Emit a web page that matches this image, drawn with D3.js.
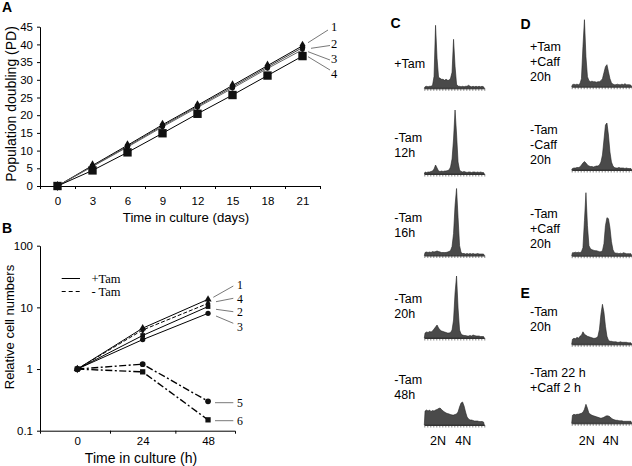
<!DOCTYPE html>
<html><head><meta charset="utf-8">
<script src="https://cdn.jsdelivr.net/npm/d3@7"></script>
<style>body{margin:0;background:#fff}svg{display:block}</style>
</head><body>
<svg id="fig" width="632" height="466"></svg>
<script>
// ---------- Panel A data ----------
const daysA = [0,3,6,9,12,15,18,21];
const pdS1 = [0,5.8,11.5,17.3,22.8,28.4,34.0,39.6];
const pdS2 = [0,5.6,11.2,17.0,22.5,28.0,33.6,39.1];
const pdS3 = [0,5.5,11.0,16.7,22.2,27.6,33.2,38.5];
const pdS4 = [0,4.4,9.5,14.9,20.4,25.7,31.2,36.7];
const yTicksA = [0,5,10,15,20,25,30,35,40,45];
const xBoundsA = [-1.5,1.5,4.5,7.5,10.5,13.5,16.5,19.5,22.5];
const seriesNamesA = ["1","2","3","4"];

// ---------- Panel B data ----------
const hoursB = [0,24,48];
const cellS1 = [1,4.6,13.5];
const cellS4 = [1,4.3,11.6];
const cellS2 = [1,3.5,10.3];
const cellS3 = [1,3.0,8.0];
const cellS5 = [1,1.2,0.30];
const cellS6 = [1,0.9,0.15];
const yTicksB = [0.1,1,10,100];
const yTickLabelsB = ["0.1","1","10","100"];
const xBoundsB = [12,36];
const seriesNamesB = ["1","4","2","3","5","6"];
const legendB = ["+Tam","- Tam"];

// ---------- Panels C/D/E histogram data (40 DNA-content channels) ----------
const histC1 = [1.5,2,1.5,2,2,3,12,63,30,11,10,9,9,8,9,8,8,10,16,49,22,4,2,2,1.5,2,1.5,2,2,3,2,1.5,2,1.5,2,1.5,2,1.5,2,1.5];
const histC2 = [2,1.5,2,2,2.5,3,5,9,6,3,2.5,3,2.5,3,3,3.5,4,7,15,35,64,40,12,4,2.5,2,2.5,2,1.5,2,2,1.5,2,2,1.5,2,1.5,2,1.5,1.5];
const histC3 = [3,3.5,3,3.5,3,4,3.5,4,4.5,4,3.5,3,3,3,3,3.5,4,5,9,22,50,67,38,10,3,2,2,1.5,2,1.5,2,1.5,2,1.5,1.5,2,1.5,1.5,1.5,1.5];
const histC4 = [5,6,5.5,6.5,6,7,9,11,13,10,8,7,6.5,6,5.5,5,5,5.5,8,18,45,62,30,8,4,3,2.5,2.5,2,2,2.5,2,3,2.5,2,2,2,1.5,1.5,1.5];
const histC5 = [14,15,14,15,13.5,14.5,14,15,15.5,16.5,17,15.5,14,13,12,11.5,11,10.5,10,10,10.5,11,13,18,22,23,19,13,8,6,5,5,4.5,4,4,4,3.5,3.5,3.5,3];
const histD1 = [2,2.5,2,2.5,2,3,8,40,67,30,10,6,5,5.5,5,5,4.5,5,5,6,8,14,20,22,15,8,4,2.5,2,2,2.5,2,2,2.5,2,3,2,2,2,1.5];
const histD2 = [1.5,2,2,2.5,2.5,3,5,7,8.5,7,5,4,3.5,3.5,3,3.5,4,4,5,8,15,30,45,47,35,18,8,4,2.5,2,2,2.5,2,2,2,1.5,2,1.5,1.5,1.5];
const histD3 = [3,3,3.5,3,3.5,3,4,8,35,63,30,10,7,6,5.5,5,5,4.5,4,4,5,12,30,38,37,28,14,6,3,2.5,2.5,2,2.5,2,3,2.5,2,2,2,2];
const histE1 = [5,6,5.5,7,6,8,9,12.5,10,9,8,7.5,7,6.5,6,6,6.5,8,15,30,40,32,18,8,4,3,3,2.5,2.5,2.5,2,2,2.5,2,2,2,2,1.5,1.5,1.5];
const histE2 = [8,9,8.5,9,9,9.5,10,11,14,19,15,10,9,8,7.5,7,6.5,6,5.5,5,5.5,6,7,7.5,7.3,6.5,5,4,3.5,3,3,2.5,2.5,2.5,2,2,2,2,2,2];

const labelsC = [["+Tam"],["-Tam","12h"],["-Tam","16h"],["-Tam","20h"],["-Tam","48h"]];
const labelsD = [["+Tam","+Caff","20h"],["-Tam","-Caff","20h"],["-Tam","+Caff","20h"]];
const labelsE = [["-Tam","20h"],["-Tam 22 h","+Caff 2 h"]];
const ploidyLabels = ["2N","4N"];

// ---------------------------------------------------------------
const svg = d3.select("#fig");
const SANS = "Arial, 'Liberation Sans', sans-serif";
const SERIF = "'Times New Roman', 'Liberation Serif', serif";

function styleAxis(g, size){
  g.selectAll("text").attr("font-family", SANS).attr("font-size", size).attr("fill","#000");
  g.selectAll("line,path").attr("stroke","#000").attr("stroke-width",1);
}
function panelLetter(t,x,y){
  svg.append("text").attr("x",x).attr("y",y).text(t)
    .attr("font-family",SANS).attr("font-weight","bold").attr("font-size",14);
}
const sym = (type,size)=>d3.symbol().type(type).size(size)();

// ================= Panel A =================
panelLetter("A",2,12);
const xA = d3.scaleLinear().domain([-1.5,22.5]).range([40,320]);
const yA = d3.scaleLinear().domain([0,45]).range([186,26.7]);
const gA = svg.append("g");
gA.append("g").attr("transform","translate(40,0)")
  .call(d3.axisLeft(yA).tickValues(yTicksA).tickSize(3).tickSizeOuter(0).tickPadding(4))
  .call(g=>styleAxis(g,11.5));
gA.append("g").attr("transform","translate(0,186)")
  .call(d3.axisBottom(xA).tickValues(xBoundsA).tickSize(3).tickSizeOuter(0).tickFormat(""))
  .call(g=>styleAxis(g,11.5));
gA.append("g").attr("transform","translate(0,186)")
  .call(d3.axisBottom(xA).tickValues(daysA).tickSize(0).tickPadding(10.5))
  .call(g=>{g.select(".domain").remove(); styleAxis(g,11.5);});
svg.append("text").attr("transform","translate(11,104) rotate(-90)")
  .attr("text-anchor","middle").attr("dy","0.35em").attr("font-family",SANS).attr("font-size",14)
  .text("Population doubling (PD)");
svg.append("text").attr("x",186).attr("y",217).attr("dy","0.35em")
  .attr("text-anchor","middle").attr("font-family",SANS).attr("font-size",13.2)
  .text("Time in culture (days)");

const lineA = d3.line().x((d,i)=>xA(daysA[i])).y(d=>yA(d));
const seriesA = [
  {v:pdS1, sym:d3.symbolDiamond, size:30, stroke:"#000"},
  {v:pdS2, sym:d3.symbolCircle, size:24, stroke:"#444"},
  {v:pdS3, sym:d3.symbolCircle, size:18, stroke:"#666"},
  {v:pdS4, sym:d3.symbolSquare, size:70, stroke:"#000"}
];
seriesA.forEach(s=>{
  gA.append("path").attr("d",lineA(s.v)).attr("fill","none").attr("stroke",s.stroke).attr("stroke-width",1);
});
seriesA.forEach(s=>{
  gA.selectAll(null).data(s.v).enter().append("path")
    .attr("transform",(d,i)=>`translate(${xA(daysA[i])},${yA(d)})`)
    .attr("d",sym(s.sym,s.size)).attr("fill","#111");
});
// leader lines + numbers for A
const leadA = [[308,42.7,328,30,26.5],[311,48.3,330,45.5,44],[308,51.7,330,60,59],[308,56.7,330,70,73.5]];
leadA.forEach((l,i)=>{
  svg.append("line").attr("x1",l[0]).attr("y1",l[1]).attr("x2",l[2]).attr("y2",l[3])
    .attr("stroke","#555").attr("stroke-width",0.8);
  svg.append("text").attr("x",331).attr("y",l[4]).attr("dy","0.35em").text(seriesNamesA[i])
    .attr("font-family",SERIF).attr("font-size",12.5).attr("fill","#000");
});

// ================= Panel B =================
panelLetter("B",2,233);
const xB = d3.scaleLinear().domain([-13.7,57.9]).range([40,235]);
const yB = d3.scaleLog().domain([0.1,100]).range([430.7,245.7]);
const gB = svg.append("g");
gB.append("g").attr("transform","translate(40,0)")
  .call(d3.axisLeft(yB).tickValues(yTicksB).tickFormat((d,i)=>yTickLabelsB[i]).tickSize(3).tickSizeOuter(0).tickPadding(4))
  .call(g=>styleAxis(g,11.5));
gB.append("g").attr("transform","translate(0,430.7)")
  .call(d3.axisBottom(xB).tickValues(xBoundsB).tickSize(3).tickSizeOuter(3).tickFormat(""))
  .call(g=>styleAxis(g,11.5));
gB.append("g").attr("transform","translate(0,430.7)")
  .call(d3.axisBottom(xB).tickValues(hoursB).tickSize(0).tickPadding(6))
  .call(g=>{g.select(".domain").remove(); styleAxis(g,11.5);});
svg.append("text").attr("transform","translate(9.5,327) rotate(-90)")
  .attr("text-anchor","middle").attr("dy","0.35em").attr("font-family",SANS).attr("font-size",13)
  .text("Relative cell numbers");
svg.append("text").attr("x",141).attr("y",458).attr("dy","0.35em")
  .attr("text-anchor","middle").attr("font-family",SANS).attr("font-size",14)
  .text("Time in culture (h)");

const lineB = d3.line().x((d,i)=>xB(hoursB[i])).y(d=>yB(d));
const seriesB = [
  {v:cellS1, sym:d3.symbolTriangle, size:22, dash:null, w:1},
  {v:cellS4, sym:d3.symbolDiamond, size:20, dash:"4,2", w:1},
  {v:cellS2, sym:d3.symbolSquare, size:22, dash:null, w:1},
  {v:cellS3, sym:d3.symbolCircle, size:22, dash:null, w:1},
  {v:cellS5, sym:d3.symbolCircle, size:26, dash:"7,2.5,2,2.5", w:1.4},
  {v:cellS6, sym:d3.symbolSquare, size:28, dash:"7,2.5,2,2.5", w:1.4}
];
seriesB.forEach(s=>{
  gB.append("path").attr("d",lineB(s.v)).attr("fill","none").attr("stroke","#000")
    .attr("stroke-width",s.w).attr("stroke-dasharray",s.dash);
});
seriesB.forEach(s=>{
  gB.selectAll(null).data(s.v).enter().append("path")
    .attr("transform",(d,i)=>`translate(${xB(hoursB[i])},${yB(d)})`)
    .attr("d",sym(s.sym,s.size)).attr("fill","#111");
});
// legend
[[278.5,null],[291.5,"4,3"]].forEach((l,i)=>{
  svg.append("line").attr("x1",61.7).attr("x2",80).attr("y1",l[0]).attr("y2",l[0])
    .attr("stroke","#000").attr("stroke-width",1).attr("stroke-dasharray",l[1]);
  svg.append("text").attr("x",91.5).attr("y",l[0]).attr("dy","0.35em")
    .attr("font-family",SERIF).attr("font-size",12.5).attr("xml:space","preserve").text(legendB[i]);
});
const leadB = [[213.3,297.3,233.3,286,284.5],[216,301.7,233.3,298.3,298.5],[216,309.3,233.3,311.7,312.3],
               [216,316,233.3,323.3,326.5],[215,402.7,233.3,402.7,402.7],[215,420.7,233.3,420.7,420.7]];
leadB.forEach((l,i)=>{
  svg.append("line").attr("x1",l[0]).attr("y1",l[1]).attr("x2",l[2]).attr("y2",l[3])
    .attr("stroke","#555").attr("stroke-width",0.8);
  svg.append("text").attr("x",237).attr("y",l[4]).attr("dy","0.35em").text(seriesNamesB[i])
    .attr("font-family",SERIF).attr("font-size",11.8);
});

// ================= Histograms =================
const chans = d3.range(40);
const yH = d3.scaleLinear().domain([0,70]).range([0,70]);
function drawHist(x0, base, vals){
  const xs = d3.scaleLinear().domain([0,40]).range([x0, x0+60]);
  const pts = [[0,0]].concat(vals.map((v,i)=>[chans[i]+0.5,v])).concat([[40,0]]);
  const area = d3.area().x(d=>xs(d[0])).y0(base).y1(d=>base-yH(d[1]));
  const g = svg.append("g");
  g.append("path").attr("d",area(pts)).attr("fill","#4a4a4a").attr("stroke","#222").attr("stroke-width",0.6);
  g.append("g").attr("transform",`translate(0,${base})`)
    .call(d3.axisBottom(xs).tickValues(d3.range(0,41,2)).tickSize(2.5).tickSizeOuter(0).tickFormat(""))
    .call(gg=>{gg.selectAll("line").attr("stroke","#333").attr("stroke-width",0.6);
               gg.selectAll("path").attr("stroke","#222").attr("stroke-width",0.9);});
  return xs;
}
function drawLabel(lines, x, y){
  lines.forEach((t,i)=>{
    svg.append("text").attr("x",x).attr("y",y+i*15).attr("dy","0.35em").text(t)
      .attr("font-family",SANS).attr("font-size",12.5);
  });
}
panelLetter("C",390.5,28);
panelLetter("D",520.5,29);
panelLetter("E",520.5,298);

const histsC = [histC1,histC2,histC3,histC4,histC5];
const basesC = [88.3,174,255.5,338,425];
const labelYC = [63.5,137.5,218,299,380];
let lastC;
histsC.forEach((h,i)=>{ lastC = drawHist(424.3, basesC[i], h); drawLabel(labelsC[i],394.3,labelYC[i]); });

const histsD = [histD1,histD2,histD3];
const basesD = [86.7,170,255.7];
const labelYD = [46.7,130,213.3];
histsD.forEach((h,i)=>{ drawHist(571.7, basesD[i], h); drawLabel(labelsD[i],530,labelYD[i]); });

const histsE = [histE1,histE2];
const basesE = [344.3,423.3];
const labelYE = [311.7,372.7];
let lastE;
histsE.forEach((h,i)=>{ lastE = drawHist(571.7, basesE[i], h); drawLabel(labelsE[i],530,labelYE[i]); });

// ploidy labels
const ploidyChC = [9.1,26];
const ploidyChE = [10,26];
ploidyLabels.forEach((t,i)=>{
  svg.append("text").attr("x",lastC(ploidyChC[i])).attr("y",440.5).attr("dy","0.35em").attr("text-anchor","middle")
    .attr("font-family",SANS).attr("font-size",12.5).text(t);
  svg.append("text").attr("x",lastE(ploidyChE[i])).attr("y",440.5).attr("dy","0.35em").attr("text-anchor","middle")
    .attr("font-family",SANS).attr("font-size",12.5).text(t);
});
</script>
</body></html>
